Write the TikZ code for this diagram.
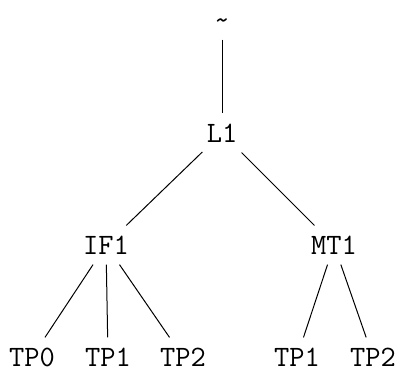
\documentclass[tikz,border=0pt]{standalone}
\usepackage{fontspec}
\begin{document}
\begin{tikzpicture}[x=0.5pt,y=-0.5pt,
  tn/.style={font=\fontsize{14.8}{17}\selectfont\ttfamily, text height=9pt, text depth=0pt, inner xsep=2pt, inner ysep=5.1pt},
  edge/.style={draw=black, line width=0.5pt}]
\useasboundingbox (0,0) rectangle (395,372);
\node[tn] (root) at (222,20) {\textasciitilde};
\node[tn] (L1) at (222,133) {L1};
\node[tn] (IF1) at (106,245) {IF1};
\node[tn] (MT1) at (334,245) {MT1};
\node[tn] (TP0) at (32,357) {TP0};
\node[tn] (TP1a) at (108,357) {TP1};
\node[tn] (TP2a) at (183,357) {TP2};
\node[tn] (TP1b) at (297,357) {TP1};
\node[tn] (TP2b) at (373,357) {TP2};
\draw[edge] (root) -- (L1);
\draw[edge] (L1) -- (IF1);
\draw[edge] (L1) -- (MT1);
\draw[edge] (IF1) -- (TP0);
\draw[edge] (IF1) -- (TP1a);
\draw[edge] (IF1) -- (TP2a);
\draw[edge] (MT1) -- (TP1b);
\draw[edge] (MT1) -- (TP2b);
\end{tikzpicture}
\end{document}
